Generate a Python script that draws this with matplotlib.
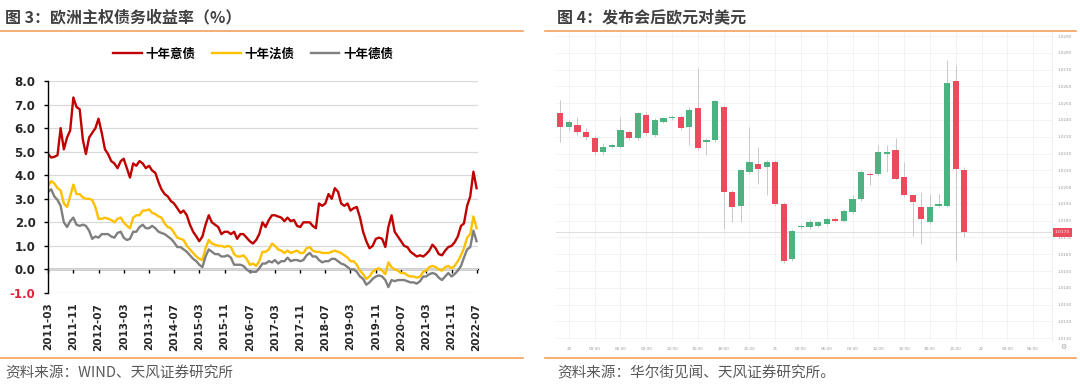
import numpy as np
import pandas as pd
import matplotlib
matplotlib.use("Agg")
import matplotlib.pyplot as plt
import matplotlib.dates as mdates
import matplotlib.transforms as mtransforms
from matplotlib.lines import Line2D

# ------------------------------
# DATA - left panel, monthly 10y yields (%)
# ------------------------------
months = pd.date_range("2011-03-01", "2022-07-01", freq="MS")

italy_10y = [
    4.9, 4.75, 4.78, 4.85, 6.0, 5.1, 5.6, 5.9, 7.3, 6.9,
    6.8, 5.5, 4.9, 5.6, 5.8, 6.0, 6.4, 5.8, 5.1, 4.9, 4.6, 4.5,
    4.3, 4.6, 4.7, 4.3, 3.9, 4.5, 4.4, 4.6, 4.5, 4.3, 4.4, 4.2,
    4.1, 3.7, 3.4, 3.2, 3.1, 2.9, 2.8, 2.6, 2.4, 2.5, 2.3, 1.9,
    1.6, 1.4, 1.2, 1.4, 1.9, 2.3, 2.0, 1.9, 1.8, 1.5, 1.6, 1.6,
    1.5, 1.6, 1.3, 1.5, 1.5, 1.35, 1.2, 1.1, 1.25, 1.5, 2.0, 1.8,
    2.1, 2.3, 2.3, 2.25, 2.2, 2.05, 2.2, 2.05, 2.1, 1.85, 1.8, 2.0,
    2.0, 2.0, 1.85, 1.75, 2.8, 2.7, 2.8, 3.2, 3.0, 3.45, 3.3, 2.8,
    2.7, 2.8, 2.5, 2.6, 2.65, 2.2, 1.6, 1.2, 0.9, 1.0, 1.3, 1.35,
    1.3, 0.95, 1.8, 2.3, 1.6, 1.4, 1.2, 1.0, 0.95, 0.75, 0.65, 0.55,
    0.6, 0.55, 0.65, 0.8, 1.05, 0.9, 0.65, 0.6, 0.8, 0.95, 1.0, 1.15,
    1.4, 1.85, 1.95, 2.7, 3.1, 4.15, 3.45,
]
france_10y = [
    3.55, 3.75, 3.65, 3.45, 3.35, 2.8, 2.65, 3.1, 3.6, 3.2,
    3.2, 3.05, 3.0, 3.0, 2.95, 2.65, 2.15, 2.15, 2.2, 2.15, 2.1, 2.0,
    2.15, 2.2, 2.0, 1.85, 1.75, 2.2, 2.3, 2.3, 2.5, 2.5, 2.55, 2.4,
    2.35, 2.25, 2.2, 1.95, 1.8, 1.75, 1.55, 1.35, 1.3, 1.25, 1.0, 0.85,
    0.7, 0.55, 0.45, 0.4, 0.9, 1.25, 1.1, 1.05, 1.0, 1.0, 0.95, 1.0,
    0.95, 0.65, 0.55, 0.55, 0.6, 0.45, 0.2, 0.25, 0.15, 0.35, 0.75, 0.75,
    0.85, 1.1, 1.0, 0.85, 0.8, 0.7, 0.8, 0.7, 0.75, 0.8, 0.7, 0.7,
    0.9, 0.95, 0.8, 0.75, 0.75, 0.7, 0.7, 0.7, 0.75, 0.8, 0.75, 0.7,
    0.6, 0.5, 0.35, 0.35, 0.2, -0.05, -0.2, -0.4, -0.3, -0.1, 0.0, 0.05,
    -0.05, -0.2, 0.3, 0.1, 0.0, -0.05, -0.15, -0.15, -0.25, -0.3, -0.3, -0.35,
    -0.3, -0.1, -0.05, 0.1, 0.15, 0.1, 0.0, -0.05, 0.1, 0.15, 0.05, 0.15,
    0.35, 0.6, 0.9, 1.35, 1.5, 2.25, 1.75,
]
germany_10y = [
    3.3, 3.4, 3.1, 2.95, 2.7, 2.0, 1.8, 2.05, 2.2, 1.9,
    1.85, 1.9, 1.85, 1.65, 1.3, 1.4, 1.35, 1.5, 1.5, 1.5, 1.4, 1.35,
    1.55, 1.6, 1.35, 1.25, 1.3, 1.6, 1.6, 1.8, 1.9, 1.75, 1.75, 1.85,
    1.75, 1.6, 1.55, 1.5, 1.4, 1.3, 1.15, 0.95, 0.95, 0.85, 0.75, 0.6,
    0.45, 0.35, 0.2, 0.1, 0.55, 0.85, 0.75, 0.65, 0.65, 0.55, 0.55, 0.6,
    0.5, 0.2, 0.2, 0.2, 0.15, 0.0, -0.1, -0.1, -0.1, 0.05, 0.25, 0.25,
    0.35, 0.3, 0.4, 0.25, 0.35, 0.35, 0.5, 0.35, 0.4, 0.4, 0.35, 0.4,
    0.6, 0.7, 0.55, 0.55, 0.4, 0.3, 0.35, 0.35, 0.45, 0.45, 0.35, 0.25,
    0.2, 0.1, 0.0, 0.0, -0.1, -0.3, -0.4, -0.65, -0.55, -0.4, -0.3, -0.25,
    -0.3, -0.45, -0.75, -0.45, -0.5, -0.45, -0.45, -0.45, -0.5, -0.55, -0.55, -0.6,
    -0.5, -0.3, -0.3, -0.2, -0.15, -0.2, -0.35, -0.45, -0.3, -0.15, -0.3, -0.2,
    -0.05, 0.15, 0.5, 0.85, 0.95, 1.65, 1.2,
]
series_names = ["十年意债", "十年法债", "十年德债"]
date_ticks = pd.date_range("2011-03-01", "2022-07-01", freq="8MS")
yield_ticks = [-1.0, 0.0, 1.0, 2.0, 3.0, 4.0, 5.0, 6.0, 7.0, 8.0]

# ------------------------------
# DATA - right panel, EUR/USD hourly candles
# ------------------------------
opens = [1.0244, 1.0236, 1.0237, 1.0233, 1.0229, 1.0221, 1.0224, 1.0224, 1.0233, 1.0229,
         1.0243, 1.0231, 1.0239, 1.0241, 1.0242, 1.0236, 1.0247, 1.0227, 1.0228, 1.0248,
         1.0197, 1.0189, 1.0209, 1.0214, 1.0212, 1.0215, 1.0190, 1.0157, 1.0176, 1.0176,
         1.0177, 1.0178, 1.0181, 1.0180, 1.0185, 1.0193, 1.0208, 1.0208, 1.0220, 1.0222,
         1.0206, 1.0195, 1.0188, 1.0179, 1.0189, 1.0189, 1.0263, 1.0210]
highs = [1.0252, 1.0240, 1.0242, 1.0235, 1.0231, 1.0226, 1.0226, 1.0242, 1.0234, 1.0245,
         1.0245, 1.0241, 1.0242, 1.0243, 1.0243, 1.0248, 1.0271, 1.0229, 1.0252, 1.0249,
         1.0198, 1.0211, 1.0236, 1.0224, 1.0216, 1.0216, 1.0191, 1.0175, 1.0178, 1.0181,
         1.0180, 1.0182, 1.0182, 1.0187, 1.0195, 1.0210, 1.0209, 1.0225, 1.0225, 1.0229,
         1.0215, 1.0196, 1.0197, 1.0196, 1.0196, 1.0276, 1.0273, 1.0212]
lows = [1.0227, 1.0234, 1.0231, 1.0228, 1.0219, 1.0219, 1.0223, 1.0223, 1.0228, 1.0228,
        1.0231, 1.0230, 1.0238, 1.0240, 1.0234, 1.0225, 1.0222, 1.0219, 1.0227, 1.0175,
        1.0179, 1.0179, 1.0208, 1.0202, 1.0195, 1.0189, 1.0155, 1.0156, 1.0175, 1.0175,
        1.0176, 1.0177, 1.0179, 1.0179, 1.0184, 1.0192, 1.0201, 1.0207, 1.0209, 1.0204,
        1.0194, 1.0171, 1.0166, 1.0178, 1.0188, 1.0188, 1.0156, 1.0170]
closes = [1.0236, 1.0239, 1.0233, 1.0230, 1.0221, 1.0224, 1.0225, 1.0234, 1.0229, 1.0244,
          1.0232, 1.0240, 1.0241, 1.0242, 1.0235, 1.0246, 1.0223, 1.0228, 1.0251, 1.0197,
          1.0188, 1.0210, 1.0215, 1.0211, 1.0215, 1.0190, 1.0156, 1.0174, 1.0177, 1.0179,
          1.0179, 1.0181, 1.0180, 1.0186, 1.0193, 1.0209, 1.0207, 1.0221, 1.0221, 1.0205,
          1.0195, 1.0191, 1.0181, 1.0188, 1.0190, 1.0262, 1.0211, 1.0173]
hour_labels = ["20", "03:00", "06:00", "09:00", "12:00", "15:00", "18:00", "21:00",
               "21", "03:00", "06:00", "09:00", "12:00", "15:00", "18:00", "21:00",
               "22", "03:00", "06:00"]
price_ticks = [1.0110, 1.0120, 1.0130, 1.0140, 1.0150, 1.0160, 1.0170, 1.0180, 1.0190,
               1.0200, 1.0210, 1.0220, 1.0230, 1.0240, 1.0250, 1.0260, 1.0270, 1.0280, 1.0290]

# ------------------------------
# STYLE
# ------------------------------
CJK = ["Noto Sans CJK SC", "DejaVu Sans"]
ORANGE = "#f4a15c"
RED, YELLOW, GREY = "#c00000", "#ffc000", "#7f7f7f"
UP, DOWN = "#4cb380", "#eb4b5d"
W, H = 1080, 386


def fig_rect(left, top, right, bottom):
    return [left / W, 1 - bottom / H, (right - left) / W, (bottom - top) / H]


fig = plt.figure(figsize=(W / 100, H / 100), dpi=100)
fig.patch.set_facecolor("white")

# titles, separators, sources
for x0, x1 in [(0, 523), (545, 1076)]:
    for y in (31, 358):
        fig.add_artist(Line2D([x0 / W, x1 / W], [1 - y / H] * 2, color=ORANGE, lw=1.2))
fig.text(5 / W, 1 - 17 / H, "图 3：欧洲主权债务收益率（%）", family=CJK, weight="bold",
         fontsize=11.5, color="#404040", va="center")
fig.text(557 / W, 1 - 17 / H, "图 4：发布会后欧元对美元", family=CJK, weight="bold",
         fontsize=11.5, color="#404040", va="center")
fig.text(5 / W, 1 - 373 / H, "资料来源：WIND、天风证券研究所", family=CJK,
         fontsize=10.5, color="#595959", va="center")
fig.text(557 / W, 1 - 373 / H, "资料来源：华尔街见闻、天风证券研究所。", family=CJK,
         fontsize=10.5, color="#595959", va="center")

# ------------------------------
# LEFT: yields
# ------------------------------
ax = fig.add_axes(fig_rect(48, 81, 478, 293))
for vals, color, name in zip([italy_10y, france_10y, germany_10y], [RED, YELLOW, GREY], series_names):
    ax.plot(months, vals, color=color, lw=1.7, label=name)

ax.set_ylim(-1, 8)
ax.set_xlim(pd.Timestamp("2011-03-01"), pd.Timestamp("2022-07-15"))
ax.set_yticks(yield_ticks)
ax.set_yticklabels([f"{v:.1f}" for v in yield_ticks], fontsize=8.5, weight="bold", color="#262626")
ax.get_yticklabels()[0].set_color("#e8203a")
ax.grid(axis="y", color="#d9d9d9", lw=0.9)
ax.set_axisbelow(True)
ax.set_xticks(date_ticks)
ax.xaxis.set_major_formatter(mdates.DateFormatter("%Y-%m"))
ax.tick_params(axis="x", length=0, pad=7, labelrotation=90, labelsize=7.5)
for lab in ax.get_xticklabels():
    lab.set_fontweight("bold")
    lab.set_color("#262626")
ax.tick_params(axis="y", length=3, width=1, pad=6)
for side in ("top", "right", "bottom"):
    ax.spines[side].set_visible(False)
ax.spines["left"].set_linewidth(1)

# zero line carries the x tick marks
zero_ax = ax.secondary_xaxis(1 / 9)
zero_ax.set_xticks(date_ticks)
zero_ax.set_xticklabels([])
zero_ax.tick_params(length=3, width=1, direction="out")
zero_ax.spines["bottom"].set_linewidth(1)

ax.legend(loc="center", bbox_to_anchor=(253 / W, 1 - 54 / H), bbox_transform=fig.transFigure,
          ncol=3, frameon=False, handlelength=2.3, handletextpad=0.3, columnspacing=1.3,
          prop={"family": CJK, "weight": "bold", "size": 9})

# ------------------------------
# RIGHT: candles
# ------------------------------
ax2 = fig.add_axes(fig_rect(556, 32, 1052, 341))
idx = np.arange(len(opens))
o, h, l, c = map(np.array, (opens, highs, lows, closes))
colors = np.where(c >= o, UP, DOWN)
ax2.vlines(idx, l, h, color="#c8c8c8", lw=0.7, zorder=2)
body = np.maximum(np.abs(c - o), 0.00005)
ax2.bar(idx, body, bottom=np.minimum(o, c), width=0.72, color=colors, zorder=3)
ax2.axhline(closes[-1], color="#dedede", lw=0.8, zorder=1)

ax2.set_xlim(-0.5, 57.2)
ax2.set_ylim(1.01083, 1.02924)
ax2.set_xticks(np.arange(1, 56, 3))
ax2.set_xticklabels(hour_labels, fontsize=3, color="#9a9a9a")
ax2.set_yticks(price_ticks)
ax2.set_yticklabels([f"{p:.4f}" for p in price_ticks], fontsize=3, color="#9a9a9a")
ax2.yaxis.tick_right()
ax2.tick_params(length=0, pad=4)
ax2.grid(color="#f1f1f1", lw=0.6)
ax2.set_axisbelow(True)
for side in ("top", "left", "bottom"):
    ax2.spines[side].set_visible(False)
ax2.spines["right"].set_color("#eeeeee")
ax2.spines["right"].set_linewidth(0.6)

tag_tf = mtransforms.blended_transform_factory(ax2.transAxes, ax2.transData)
ax2.text(1.006, closes[-1], f"{closes[-1]:.4f}", transform=tag_tf, fontsize=3.2, color="white",
         va="center", ha="left", zorder=5,
         bbox=dict(boxstyle="square,pad=0.5", fc=DOWN, ec="none"))
fig.text(1063 / W, 1 - 347 / H, "⚙", fontsize=5, color="#a0a0a0", ha="center", va="center")

fig.savefig("out.png", dpi=100, facecolor="white")
